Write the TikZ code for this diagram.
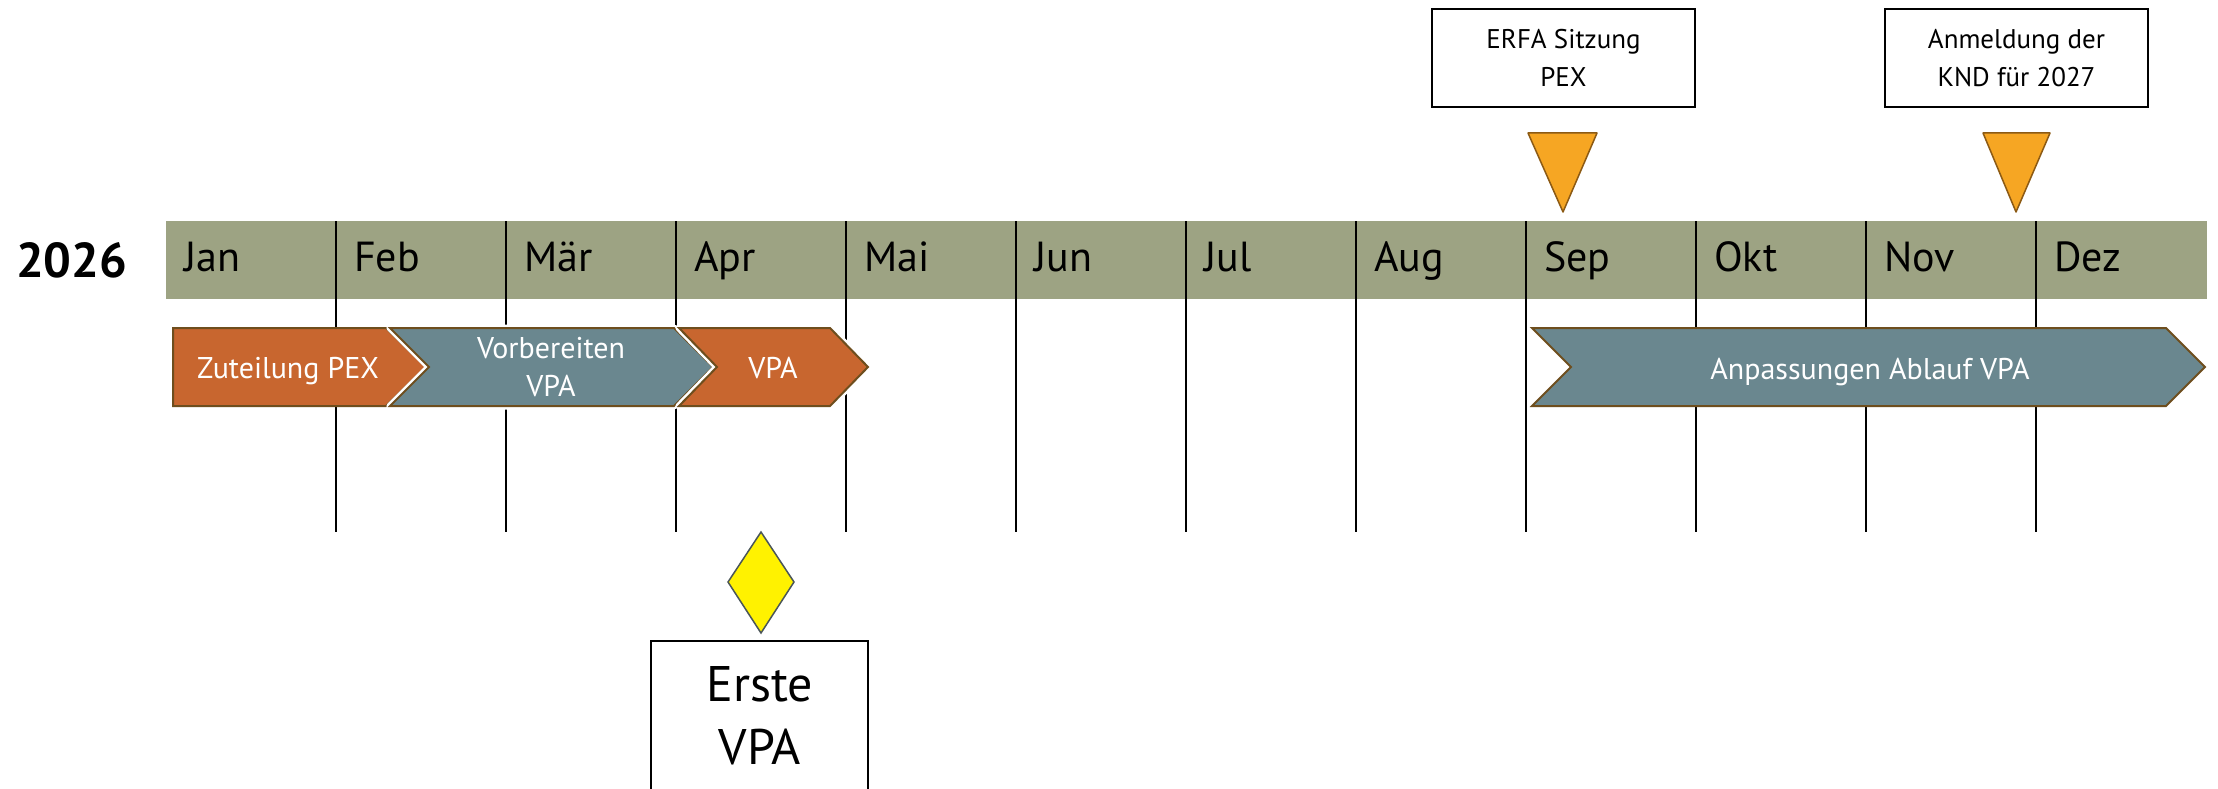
\documentclass[tikz,border=0pt]{standalone}
\usepackage{fontspec}
\setmainfont{PT Sans}
\definecolor{bandgreen}{HTML}{9DA383}
\definecolor{chevorange}{HTML}{C8662F}
\definecolor{chevslate}{HTML}{6A878F}
\definecolor{chevborder}{HTML}{6E4E1E}
\definecolor{triorange}{HTML}{F6A623}
\definecolor{triborder}{HTML}{8C5A14}
\definecolor{diaborder}{HTML}{4A5659}
\begin{document}
\begin{tikzpicture}[x=1pt,y=-1pt,
  month/.style={anchor=base west,inner sep=0pt,font=\fontsize{42}{50}\selectfont},
  monthline/.style={draw=black,line width=1.6pt},
  chev/.style={draw=chevborder,line width=2pt,line join=miter},
  chevgap/.style={preaction={draw=white,line width=7pt,line join=round}},
  chevtext/.style={text=white,inner sep=0pt,align=center,font=\fontsize{30}{38}\selectfont},
  infobox/.style={draw=black,line width=2pt,minimum width=263pt,minimum height=98pt,align=center,inner sep=0pt,font=\fontsize{27}{38}\selectfont},
  tri/.style={fill=triorange,draw=triborder,line width=1.5pt,line join=round}
]
\useasboundingbox (0,0) rectangle (2218,789);
\fill[white] (0,0) rectangle (2218,789);

% year
\node[anchor=base west,inner sep=0pt,font=\fontsize{49}{56}\selectfont\bfseries] (year) at (16,277) {2026};

% band
\fill[bandgreen] (166,221) rectangle (2207,299);
\foreach \i in {1,...,11}
  \draw[monthline] ({166+170*\i},221) -- ({166+170*\i},532);
\foreach \m [count=\i from 0] in {Jan,Feb,Mär,Apr,Mai,Jun,Jul,Aug,Sep,Okt,Nov,Dez}
  \node[month] (m\i) at ({184+170*\i},271) {\m};

% chevrons
\path[chev,fill=chevorange] (173,328) -- (386,328) -- (426,367) -- (386,406) -- (173,406) -- cycle;
\path[chev,chevgap,fill=chevslate] (390,328) -- (674,328) -- (713,367) -- (674,406) -- (390,406) -- (429,367) -- cycle;
\path[chev,chevgap,fill=chevorange] (679,328) -- (830,328) -- (868,367) -- (830,406) -- (679,406) -- (717,367) -- cycle;
\path[chev,fill=chevslate] (1532,328) -- (2166,328) -- (2205,367) -- (2166,406) -- (1532,406) -- (1571,367) -- cycle;

\node[chevtext,anchor=base] (c1) at (288,378) {Zuteilung PEX};
\node[chevtext] (c2) at (551,367) {Vorbereiten\\VPA};
\node[chevtext,anchor=base] (c3) at (773,378) {VPA};
\node[chevtext,anchor=base] (c4) at (1870,379) {Anpassungen Ablauf VPA};

% milestones above
\path[tri] (1528,133) -- (1597,133) -- (1563,212) -- cycle;
\path[tri] (1983,133) -- (2050,133) -- (2016,212) -- cycle;
\node[infobox] (erfa) at (1563.5,58) {ERFA Sitzung\\PEX};
\node[infobox] (anm) at (2016.5,58) {Anmeldung der\\KND für 2027};

% first VPA
\path[fill=yellow,draw=diaborder,line width=1.5pt] (761,532) -- (794,582) -- (761,633) -- (728,582) -- cycle;
\draw[black,line width=2pt] (651,800) -- (651,641) -- (868,641) -- (868,800);
\node[inner sep=0pt,align=center,font=\fontsize{50}{63}\selectfont] (erste) at (760,716) {Erste\\VPA};
\end{tikzpicture}
\end{document}
